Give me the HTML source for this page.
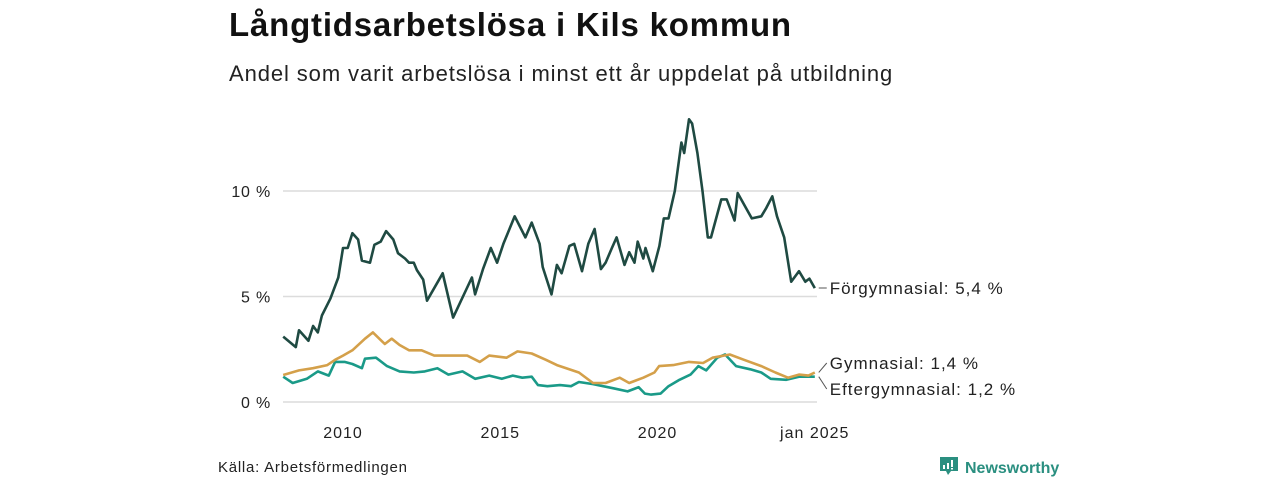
<!DOCTYPE html>
<html><head><meta charset="utf-8">
<style>
body{margin:0;background:#fff;font-family:"Liberation Sans","DejaVu Sans",sans-serif;}
#wrap{position:relative;width:1280px;height:480px;overflow:hidden;}
h1{position:absolute;left:229px;top:6px;margin:0;font-size:33px;font-weight:bold;color:#111;letter-spacing:0.8px;}
h2{position:absolute;left:229px;top:61px;margin:0;font-size:22px;font-weight:normal;color:#222;letter-spacing:0.9px;}
.src{position:absolute;left:218px;top:459px;font-size:15px;color:#222;letter-spacing:0.75px;}
.logo{position:absolute;left:939px;top:456px;font-size:16px;font-weight:bold;color:#2a8f80;}
</style></head><body>
<div id="wrap">
<h1>Långtidsarbetslösa i Kils kommun</h1>
<h2>Andel som varit arbetslösa i minst ett år uppdelat på utbildning</h2>
<svg id="chart" width="1280" height="480" style="position:absolute;left:0;top:0"></svg>
<div class="src">Källa: Arbetsförmedlingen</div>
<div class="logo"><svg width="20" height="20" viewBox="0 0 20 20" style="vertical-align:-3px;margin-right:6px"><path d="M1 1h18v14h-7l-3 4-2-4H1z" fill="#2a8f80"/><rect x="4" y="9" width="2" height="4" fill="#fff"/><rect x="8" y="7" width="2" height="6" fill="#fff"/><rect x="12" y="4" width="2" height="7" fill="#fff"/><rect x="12" y="12" width="2" height="1.5" fill="#fff"/></svg>Newsworthy</div>
</div>
<script>
const forgDates=[2008.1,2008.5,2008.6,2008.9,2009.05,2009.2,2009.33,2009.6,2009.85,2010.0,2010.15,2010.3,2010.48,2010.6,2010.86,2011.0,2011.2,2011.37,2011.6,2011.75,2011.97,2012.1,2012.25,2012.35,2012.55,2012.67,2013.17,2013.5,2014.1,2014.2,2014.45,2014.7,2014.9,2015.1,2015.46,2015.8,2016.0,2016.25,2016.35,2016.63,2016.8,2016.95,2017.2,2017.35,2017.6,2017.8,2018.0,2018.2,2018.35,2018.55,2018.7,2018.95,2019.1,2019.27,2019.37,2019.55,2019.62,2019.85,2020.06,2020.2,2020.35,2020.55,2020.76,2020.85,2021.0,2021.1,2021.27,2021.43,2021.6,2021.7,2022.03,2022.2,2022.45,2022.55,2022.85,2023.0,2023.3,2023.46,2023.65,2023.8,2024.03,2024.25,2024.4,2024.5,2024.7,2024.83,2025.0];
const forgVals=[3.1,2.6,3.4,2.9,3.6,3.3,4.1,4.9,5.9,7.3,7.3,8.0,7.7,6.7,6.6,7.45,7.6,8.1,7.7,7.05,6.8,6.6,6.6,6.25,5.8,4.8,6.1,4.0,5.9,5.1,6.3,7.3,6.6,7.5,8.8,7.8,8.5,7.5,6.4,5.1,6.5,6.1,7.4,7.5,6.2,7.5,8.2,6.3,6.6,7.3,7.8,6.5,7.1,6.6,7.6,6.8,7.3,6.2,7.4,8.7,8.7,10.0,12.3,11.8,13.4,13.2,11.8,10.0,7.8,7.8,9.6,9.6,8.6,9.9,9.1,8.7,8.8,9.2,9.75,8.8,7.8,5.7,6.0,6.2,5.7,5.85,5.4];
const gymDates=[2008.1,2008.6,2009.05,2009.5,2009.75,2010.0,2010.3,2010.7,2010.95,2011.33,2011.55,2011.8,2012.1,2012.5,2012.9,2013.4,2013.95,2014.35,2014.65,2015.2,2015.55,2016.0,2016.45,2016.8,2017.5,2017.95,2018.35,2018.8,2019.1,2019.55,2019.9,2020.05,2020.5,2021.0,2021.45,2021.75,2022.3,2022.75,2023.3,2023.75,2024.15,2024.5,2024.8,2025.0];
const gymVals=[1.28,1.5,1.6,1.75,2.0,2.2,2.45,3.0,3.3,2.75,3.0,2.7,2.45,2.45,2.2,2.2,2.2,1.9,2.2,2.1,2.4,2.3,2.0,1.75,1.4,0.9,0.9,1.15,0.9,1.15,1.4,1.7,1.75,1.9,1.85,2.1,2.25,2.0,1.7,1.4,1.15,1.3,1.25,1.4];
const eftDates=[2008.1,2008.4,2008.85,2009.2,2009.55,2009.75,2010.05,2010.3,2010.6,2010.7,2011.05,2011.4,2011.8,2012.25,2012.6,2013.0,2013.35,2013.8,2014.2,2014.65,2015.05,2015.4,2015.7,2016.0,2016.2,2016.5,2016.9,2017.25,2017.5,2017.95,2018.6,2019.05,2019.4,2019.6,2019.8,2020.1,2020.35,2020.7,2021.05,2021.3,2021.55,2021.9,2022.15,2022.5,2022.95,2023.3,2023.6,2024.1,2024.5,2024.8,2025.0];
const eftVals=[1.2,0.9,1.1,1.45,1.25,1.9,1.9,1.8,1.6,2.05,2.1,1.7,1.45,1.4,1.45,1.6,1.3,1.45,1.1,1.25,1.1,1.25,1.15,1.2,0.8,0.75,0.8,0.75,0.95,0.85,0.65,0.5,0.7,0.4,0.35,0.4,0.75,1.05,1.3,1.7,1.5,2.1,2.25,1.7,1.55,1.4,1.1,1.05,1.2,1.2,1.2];
const yTicks=[0,5,10];
const yTickLabels=["0 %","5 %","10 %"];
const xTicks=[2010,2015,2020,2025];
const xTickLabels=["2010","2015","2020","jan 2025"];
const seriesNames=["Förgymnasial: 5,4 %","Gymnasial: 1,4 %","Eftergymnasial: 1,2 %"];

const NS="http://www.w3.org/2000/svg";
const svg=document.getElementById('chart');
const X=t=>343+(t-2010)*31.45;
const Y=v=>402-v*21.1;
function mk(tag,attrs,parent){const e=document.createElementNS(NS,tag);for(const k in attrs)e.setAttribute(k,attrs[k]);(parent||svg).appendChild(e);return e;}
yTicks.forEach((v,i)=>{
  const g=mk('line',{x1:283,x2:817,y1:Y(v),y2:Y(v),stroke:'#dcdcdc','stroke-width':1.5});
  
  
  const t=mk('text',{x:271,y:Y(v)+6,'text-anchor':'end','font-size':16,fill:'#222','letter-spacing':'0.8','font-family':'Liberation Sans,sans-serif'});
  t.textContent=yTickLabels[i];
  
  
});
xTicks.forEach((v,i)=>{
  const t=mk('text',{x:X(v),y:438,'text-anchor':'middle','font-size':16,fill:'#222','letter-spacing':'1','font-family':'Liberation Sans,sans-serif'});
  t.textContent=xTickLabels[i];
  
  
});
function line(dates,vals,color,name){
  const d=dates.map((t,i)=>(i?'L':'M')+X(t).toFixed(1)+','+Y(vals[i]).toFixed(1)).join('');
  const p=mk('path',{d:d,fill:'none',stroke:color,'stroke-width':2.6,'stroke-linejoin':'round'});
  
  
}
line(eftDates,eftVals,'#1a9a88','eftergymnasial-line');
line(gymDates,gymVals,'#d4a04a','gymnasial-line');
line(forgDates,forgVals,'#1f4a42','forgymnasial-line');
function label(txt,yv,ly,name){
  const lx=X(2025);
  const c=mk('line',{x1:lx+4,y1:Y(yv),x2:lx+12,y2:ly,stroke:'#555','stroke-width':1});
  
  
  const t=mk('text',{x:lx+15,y:ly+6,'font-size':17,fill:'#222','letter-spacing':'1','font-family':'Liberation Sans,sans-serif'});
  t.textContent=txt;
  
  
}
label(seriesNames[0],forgVals[forgVals.length-1],288,'forgymnasial-label');
label(seriesNames[1],gymVals[gymVals.length-1],363,'gymnasial-label');
label(seriesNames[2],eftVals[eftVals.length-1],389,'eftergymnasial-label');
</script>
</body></html>
